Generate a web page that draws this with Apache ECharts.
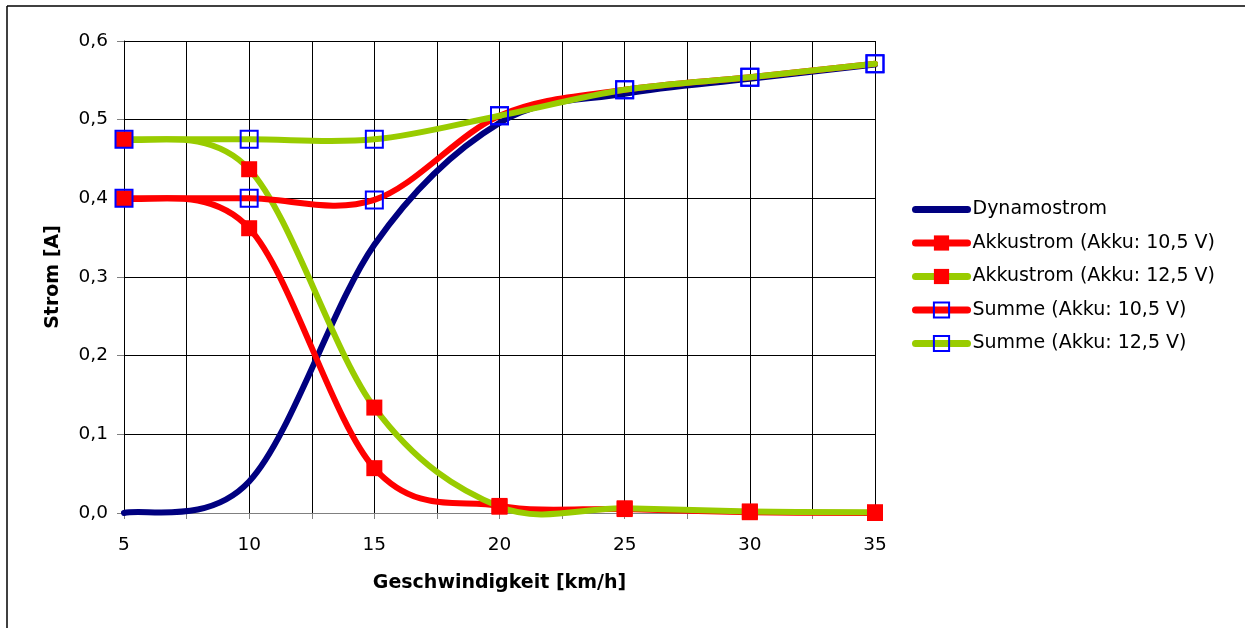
<!DOCTYPE html>
<html>
<head>
<meta charset="utf-8">
<script src="https://cdn.jsdelivr.net/npm/echarts@6/dist/echarts.min.js"></script>
<style>
html,body{margin:0;padding:0;background:#fff;}
#chart{width:1245px;height:628px;}
</style>
</head>
<body>
<div id="chart"></div>
<script>
const speeds = [5, 10, 15, 20, 25, 30, 35];
const dynamostrom = [0.000, 0.040, 0.341, 0.496, 0.533, 0.552, 0.570];
const akku105 = [0.400, 0.362, 0.057, 0.009, 0.005, 0.001, 0.000];
const akku125 = [0.475, 0.437, 0.134, 0.008, 0.006, 0.002, 0.001];
const summe105 = [0.400, 0.400, 0.398, 0.505, 0.538, 0.554, 0.571];
const summe125 = [0.475, 0.475, 0.475, 0.505, 0.538, 0.554, 0.571];
const seriesNames = ['Dynamostrom', 'Akkustrom (Akku: 10,5 V)', 'Akkustrom (Akku: 12,5 V)', 'Summe (Akku: 10,5 V)', 'Summe (Akku: 12,5 V)'];
const seriesValues = [dynamostrom, akku105, akku125, summe105, summe125];

const FONT = '"DejaVu Sans", "Liberation Sans", Arial, sans-serif';
const LINE_COLORS = ['#000080', '#FF0000', '#99CC00', '#FF0000', '#99CC00'];
const MARKERS = ['none', 'red', 'red', 'blue', 'blue'];
const pairs = arr => speeds.map((x, i) => [x, arr[i]]);

const chart = echarts.init(document.getElementById('chart'), null, {renderer: 'canvas'});

// Spreadsheet-style smoothed curve (Bezier with 1/6 tangents, limited to half segment),
// computed in pixel space from the axes' own coordinate mapping.
function smoothPath(pts) {
  const n = pts.length;
  const dist = (a, b) => Math.hypot(a[0] - b[0], a[1] - b[1]);
  let d = 'M' + pts[0][0] + ',' + pts[0][1];
  for (let i = 0; i < n - 1; i++) {
    const p0 = pts[Math.max(i - 1, 0)];
    const p1 = pts[i];
    const p2 = pts[i + 1];
    const p3 = pts[Math.min(i + 2, n - 1)];
    const d02 = dist(p0, p2), d12 = dist(p1, p2), d13 = dist(p1, p3);
    let f = 1 / 6, g = 1 / 6;
    if (d02 / 6 >= d12 / 2 && d02 > 0) f = d12 / d02 / 2;
    if (d13 / 6 >= d12 / 2 && d13 > 0) g = d12 / d13 / 2;
    const b1 = [p1[0] + (p2[0] - p0[0]) * f, p1[1] + (p2[1] - p0[1]) * f];
    const b2 = [p2[0] - (p3[0] - p1[0]) * g, p2[1] - (p3[1] - p1[1]) * g];
    d += ' C' + b1[0] + ',' + b1[1] + ' ' + b2[0] + ',' + b2[1] + ' ' + p2[0] + ',' + p2[1];
  }
  return d;
}

function curveSeries(idx) {
  const values = seriesValues[idx];
  const color = LINE_COLORS[idx];
  return {
    name: '_curve' + idx,
    type: 'custom',
    coordinateSystem: 'cartesian2d',
    data: pairs(values),
    encode: {x: 0, y: 1},
    silent: true,
    animation: false,
    clip: false,
    renderItem: function (params, api) {
      if (params.dataIndex !== 0) return null;
      const pts = speeds.map((x, i) => api.coord([x, values[i]]));
      return {
        type: 'path',
        shape: {pathData: smoothPath(pts)},
        style: {stroke: color, lineWidth: 6, fill: 'none', lineCap: 'round', lineJoin: 'round'}
      };
    }
  };
}

function markerSeries(idx) {
  const color = LINE_COLORS[idx];
  const s = {
    name: seriesNames[idx],
    type: 'line',
    data: pairs(seriesValues[idx]),
    lineStyle: {color: color, width: 6, opacity: 0},
    emphasis: {disabled: true},
    animation: false
  };
  if (MARKERS[idx] === 'none') {
    s.symbol = 'none';
    s.showSymbol = false;
    s.itemStyle = {color: color};
  } else if (MARKERS[idx] === 'red') {
    s.symbol = 'rect';
    s.symbolSize = 16;
    s.itemStyle = {color: '#FF0000', borderColor: '#FF0000', borderWidth: 0};
  } else {
    s.symbol = 'rect';
    s.symbolSize = 17;
    s.itemStyle = {color: 'rgba(255,255,255,0)', borderColor: '#0000FF', borderWidth: 2};
  }
  return s;
}

const series = [];
for (let i = 0; i < seriesNames.length; i++) series.push(curveSeries(i));
for (let i = 0; i < seriesNames.length; i++) series.push(markerSeries(i));

const option = {
  backgroundColor: '#ffffff',
  animation: false,
  textStyle: {fontFamily: FONT},
  grid: {left: 124, top: 41, right: 370, bottom: 115, containLabel: false},
  legend: {
    orient: 'vertical',
    left: 912,
    top: 200,
    padding: 0,
    itemWidth: 52,
    itemHeight: 19,
    itemGap: 14.5,
    lineStyle: {width: 7, cap: 'round', opacity: 1},
    textStyle: {fontFamily: FONT, fontSize: 19, color: '#000'},
    data: [
      {name: seriesNames[0], itemStyle: {opacity: 0}},
      seriesNames[1], seriesNames[2], seriesNames[3], seriesNames[4]
    ]
  },
  xAxis: {
    type: 'value',
    min: 5,
    max: 35,
    interval: 2.5,
    name: 'Geschwindigkeit [km/h]',
    nameLocation: 'middle',
    nameGap: 61,
    nameTextStyle: {fontFamily: FONT, fontSize: 19, fontWeight: 'bold', color: '#000'},
    axisLine: {show: true, onZero: false, lineStyle: {color: '#808080', width: 1}},
    axisTick: {show: true, length: 6, lineStyle: {color: '#808080'}},
    axisLabel: {
      margin: 23,
      fontFamily: FONT, fontSize: 18.5, color: '#000',
      formatter: v => (v % 5 === 0 ? String(v) : '')
    },
    splitLine: {show: true, lineStyle: {color: '#000', width: 1}}
  },
  yAxis: {
    type: 'value',
    min: 0,
    max: 0.6,
    interval: 0.1,
    name: 'Strom [A]',
    nameLocation: 'middle',
    nameGap: 61,
    nameRotate: 90,
    nameTextStyle: {fontFamily: FONT, fontSize: 19, fontWeight: 'bold', color: '#000'},
    axisLine: {show: true, lineStyle: {color: '#000', width: 1}},
    axisTick: {show: true, length: 7, lineStyle: {color: '#808080'}},
    axisLabel: {
      margin: 16,
      fontFamily: FONT, fontSize: 18.5, color: '#000',
      formatter: v => v.toFixed(1).replace('.', ',')
    },
    splitLine: {show: true, lineStyle: {color: '#000', width: 1}}
  },
  graphic: [
    {type: 'line', shape: {x1: 7, y1: 6, x2: 7, y2: 628}, style: {stroke: '#000', lineWidth: 1.5}, silent: true},
    {type: 'line', shape: {x1: 7, y1: 6, x2: 1245, y2: 6}, style: {stroke: '#000', lineWidth: 1.5}, silent: true}
  ],
  series: series
};
chart.setOption(option);
</script>
</body>
</html>
